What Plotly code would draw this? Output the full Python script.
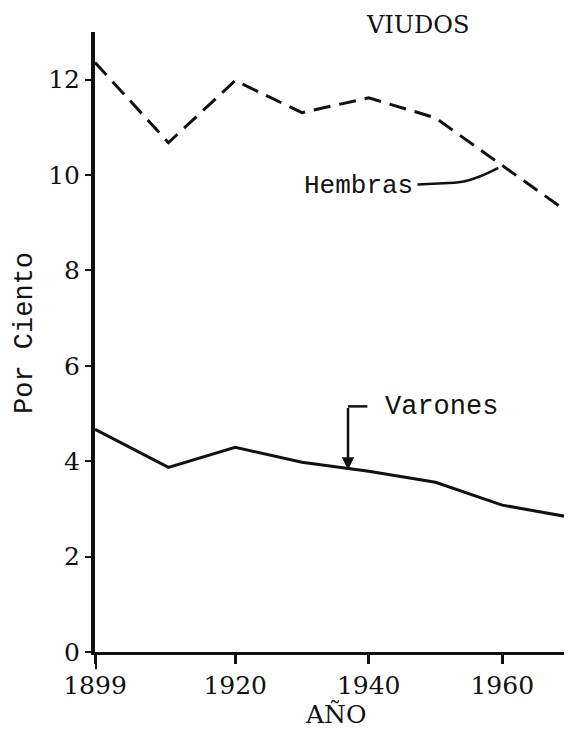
import plotly.graph_objects as go

# Data
years = [1899, 1910, 1920, 1930, 1940, 1950, 1960, 1970]
hembras = [12.36, 10.68, 11.98, 11.31, 11.62, 11.20, 10.20, 9.21]
varones = [4.67, 3.87, 4.29, 3.98, 3.79, 3.56, 3.08, 2.83]

x_tickvals = [1899, 1920, 1940, 1960, 1970]
x_ticktext = ["1899", "1920", "1940", "1960", ""]
y_tickvals = [0, 2, 4, 6, 8, 10, 12]

INK = "#111111"
SERIF = "DejaVu Serif"
MONO = "Liberation Mono"

# page body has an 8px margin; the figure is sized to fill the rest
W, H = 564, 722
L, R, T, B = 87, 3, 24, 78
PW, PH = W - L - R, H - T - B

fig = go.Figure()
fig.add_trace(go.Scatter(
    x=years, y=hembras, mode="lines", name="Hembras",
    line=dict(color=INK, width=3, dash="17px,9px"),
))
fig.add_trace(go.Scatter(
    x=years, y=varones, mode="lines", name="Varones",
    line=dict(color=INK, width=3),
))

# y axis line continues a little below zero
fig.add_shape(type="line", xref="x", yref="paper", x0=1899, x1=1899,
              y0=0, y1=-0.028, line=dict(color=INK, width=4))

# Hembras label with curved connector
fig.add_annotation(x=1946.9, y=9.78, xref="x", yref="y", text="Hembras",
                   showarrow=False, xanchor="right", yanchor="middle",
                   font=dict(family=MONO, size=26, color=INK))
fig.add_shape(type="path", xref="x", yref="y",
              path="M 1947.3,9.80 L 1952.8,9.84 Q 1955.5,9.86 1959.4,10.15",
              line=dict(color=INK, width=2.5))

# Varones label with bracket arrow
fig.add_annotation(x=1942.2, y=5.13, xref="x", yref="y", text="Varones",
                   showarrow=False, xanchor="left", yanchor="middle",
                   font=dict(family=MONO, size=27, color=INK))
fig.add_shape(type="line", xref="x", yref="y",
              x0=1939.8, y0=5.15, x1=1936.9, y1=5.15,
              line=dict(color=INK, width=2.5))
fig.add_annotation(x=1936.9, y=3.82, ax=1936.9, ay=5.15,
                   xref="x", yref="y", axref="x", ayref="y",
                   text="", showarrow=True, arrowhead=2, arrowsize=1,
                   arrowwidth=2.5, arrowcolor=INK)

# Title and axis titles (positions in page pixels converted to paper coords)
def px(xp):
    return (xp - 8 - L) / PW

def py(yp):
    return (H - B - (yp - 8)) / PH

fig.add_annotation(x=px(417), y=py(25), xref="paper", yref="paper", text="VIUDOS",
                   showarrow=False, xanchor="center", yanchor="middle",
                   font=dict(family=SERIF, size=24, color=INK))
fig.add_annotation(x=px(25), y=py(333), xref="paper", yref="paper", text="Por Ciento",
                   textangle=-90, showarrow=False, xanchor="center", yanchor="middle",
                   borderpad=0,
                   font=dict(family=MONO, size=27, color=INK))
fig.add_annotation(x=px(335), y=py(714), xref="paper", yref="paper", text="AÑO",
                   showarrow=False, xanchor="center", yanchor="middle",
                   font=dict(family=SERIF, size=25, color=INK))

fig.update_layout(
    width=W, height=H,
    margin=dict(l=L, r=R, t=T, b=B, autoexpand=False),
    paper_bgcolor="white", plot_bgcolor="white",
    showlegend=False,
    xaxis=dict(
        range=[1899, 1970], tickvals=x_tickvals, ticktext=x_ticktext,
        showgrid=False, zeroline=False, showline=True, linecolor=INK, linewidth=3,
        ticks="outside", ticklen=9, tickwidth=3, tickcolor=INK,
        tickfont=dict(family=SERIF, size=25, color=INK),
    ),
    yaxis=dict(
        range=[0, 13], tickvals=y_tickvals,
        showgrid=False, zeroline=False, showline=True, linecolor=INK, linewidth=4,
        ticks="outside", ticklen=6, tickwidth=2, tickcolor=INK,
        tickfont=dict(family=SERIF, size=25, color=INK),
    ),
)

fig.write_html("out.html")
